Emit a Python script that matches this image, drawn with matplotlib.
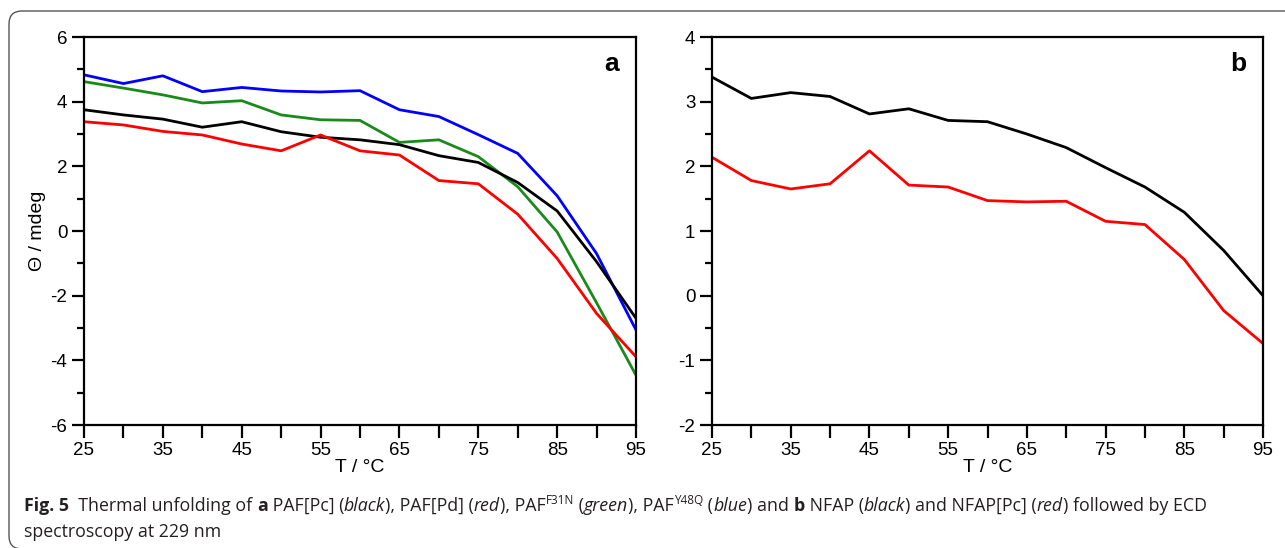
import matplotlib

matplotlib.use("Agg")
import matplotlib.pyplot as plt
from matplotlib.patches import FancyBboxPatch
from matplotlib.ticker import MultipleLocator
from matplotlib.transforms import IdentityTransform

plt.rcParams["axes.unicode_minus"] = False

# temperatures (deg C)
temps = [25, 30, 35, 40, 45, 50, 55, 60, 65, 70, 75, 80, 85, 90, 95]

# panel a: PAF variants, ellipticity in mdeg
paf_pc = [3.75, 3.59, 3.46, 3.21, 3.38, 3.07, 2.90, 2.82, 2.67, 2.33, 2.12, 1.50, 0.62, -0.95, -2.70]
paf_pd = [3.38, 3.28, 3.08, 2.97, 2.69, 2.48, 2.97, 2.48, 2.35, 1.56, 1.46, 0.52, -0.85, -2.55, -3.89]
paf_f31n = [4.62, 4.42, 4.21, 3.96, 4.03, 3.59, 3.44, 3.42, 2.74, 2.82, 2.30, 1.37, -0.03, -2.22, -4.46]
paf_y48q = [4.83, 4.56, 4.80, 4.31, 4.44, 4.33, 4.30, 4.34, 3.75, 3.54, 2.98, 2.40, 1.09, -0.70, -3.06]

# panel b: NFAP variants
nfap = [3.38, 3.05, 3.14, 3.08, 2.81, 2.89, 2.71, 2.69, 2.50, 2.29, 1.98, 1.68, 1.29, 0.70, 0.00]
nfap_pc = [2.14, 1.78, 1.65, 1.73, 2.24, 1.71, 1.68, 1.47, 1.45, 1.46, 1.15, 1.10, 0.56, -0.23, -0.74]

TICK_FONT = ["Liberation Sans Narrow", "Liberation Sans", "DejaVu Sans"]
CAP_FONT = ["Open Sans", "DejaVu Sans"]

W, H = 1285, 548
fig = plt.figure(figsize=(W / 100, H / 100), dpi=100)

# rounded frame around the figure (pixel coords, origin bottom-left)
frame = FancyBboxPatch((9, -1), W + 50, H - 10,
                       boxstyle="round,pad=0,rounding_size=13",
                       transform=IdentityTransform(), fill=False,
                       edgecolor="#555555", linewidth=1.0)
fig.patches.append(frame)


def style_axes(ax, ymin, ymax, major, minor, label):
    ax.set_xlim(25, 95)
    ax.set_ylim(ymin, ymax)
    ax.xaxis.set_major_locator(MultipleLocator(10, offset=5))
    ax.xaxis.set_minor_locator(MultipleLocator(5))
    ax.yaxis.set_major_locator(MultipleLocator(major))
    ax.yaxis.set_minor_locator(MultipleLocator(minor))
    ax.tick_params(axis="both", which="both", direction="out", width=1.6,
                   labelsize=13.5, pad=3)
    ax.tick_params(axis="x", which="both", length=9, top=False)
    ax.tick_params(axis="y", which="major", length=9, right=False)
    ax.tick_params(axis="y", which="minor", length=5, right=False)
    for lab in ax.get_xticklabels() + ax.get_yticklabels():
        lab.set_family(TICK_FONT)
    for sp in ax.spines.values():
        sp.set_linewidth(1.6)
    ax.set_xlabel("T / °C", family=TICK_FONT, fontsize=14, labelpad=0)
    ax.text(0.955, 0.93, label, transform=ax.transAxes, ha="center", va="center",
            fontsize=19, fontweight="bold", family=["Liberation Sans", "DejaVu Sans"])


ax_a = fig.add_axes([84 / W, (H - 425) / H, 552 / W, 388 / H])
ax_a.plot(temps, paf_y48q, color="#0000ff", lw=2)
ax_a.plot(temps, paf_f31n, color="#1a8a1a", lw=2)
ax_a.plot(temps, paf_pc, color="black", lw=2)
ax_a.plot(temps, paf_pd, color="#ff0000", lw=2)
style_axes(ax_a, -6, 6, 2, 1, "a")
ax_a.set_ylabel("Θ / mdeg", family=TICK_FONT, fontsize=14, labelpad=3)

ax_b = fig.add_axes([712 / W, (H - 425) / H, 551 / W, 388 / H])
ax_b.plot(temps, nfap, color="black", lw=2)
ax_b.plot(temps, nfap_pc, color="#ff0000", lw=2)
style_axes(ax_b, -2, 4, 1, 0.5, "b")

# caption, drawn as a sequence of styled runs
renderer = fig.canvas.get_renderer()
CAP_SIZE = 12.8


def draw_runs(x_px, y_px, runs):
    for txt, kind in runs:
        kw = dict(family=CAP_FONT, fontsize=CAP_SIZE, color="#231f20", va="baseline")
        yy = y_px
        if kind == "b":
            kw["fontweight"] = "bold"
        elif kind == "i":
            kw["fontstyle"] = "italic"
        elif kind == "sup":
            kw["fontsize"] = CAP_SIZE * 0.66
            yy = y_px - 7
        t = fig.text(x_px / W, (H - yy) / H, txt, **kw)
        x_px += t.get_window_extent(renderer).width


line1 = [
    ("Fig. 5", "b"), ("  Thermal unfolding of ", "n"), ("a", "b"), (" PAF[Pc] (", "n"),
    ("black", "i"), ("), PAF[Pd] (", "n"), ("red", "i"), ("), PAF", "n"), ("F31N", "sup"),
    (" (", "n"), ("green", "i"), ("), PAF", "n"), ("Y48Q", "sup"), (" (", "n"),
    ("blue", "i"), (") and ", "n"), ("b", "b"), (" NFAP (", "n"), ("black", "i"),
    (") and NFAP[Pc] (", "n"), ("red", "i"), (") followed by ECD", "n"),
]
draw_runs(24, 511, line1)
draw_runs(24, 537, [("spectroscopy at 229 nm", "n")])

fig.savefig("out.png", dpi=100)
